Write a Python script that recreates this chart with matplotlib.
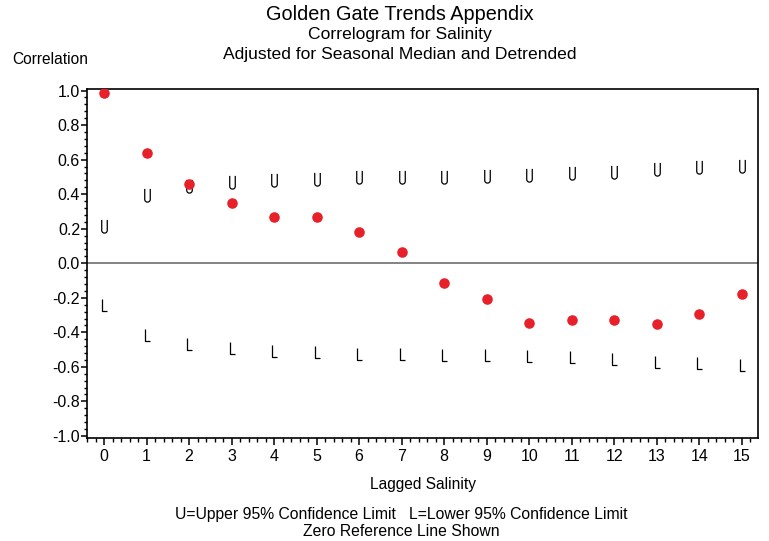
import numpy as np
import matplotlib
matplotlib.use("Agg")
import matplotlib.pyplot as plt
from matplotlib.path import Path
from matplotlib.ticker import MultipleLocator, FormatStrFormatter

plt.rcParams['font.family'] = ['Liberation Sans', 'DejaVu Sans']

# data
lags = list(range(16))
corr = [0.985, 0.64, 0.46, 0.347, 0.27, 0.268, 0.182, 0.065,
        -0.112, -0.208, -0.347, -0.331, -0.33, -0.353, -0.293, -0.177]
upper = [0.217, 0.393, 0.447, 0.47, 0.48, 0.49, 0.50, 0.50,
         0.50, 0.505, 0.509, 0.52, 0.53, 0.543, 0.557, 0.566]
lower = [-0.243, -0.416, -0.468, -0.493, -0.507, -0.516, -0.526, -0.526,
         -0.53, -0.532, -0.536, -0.545, -0.555, -0.57, -0.58, -0.588]

# letter-like markers "U" and "L" (narrow, thin stroke)
t = np.linspace(np.pi, 2 * np.pi, 20)
u_verts = [(-0.21, 0.5), (-0.21, -0.29)]
u_verts += [(0.21 * np.cos(a), -0.29 + 0.21 * np.sin(a)) for a in t]
u_verts += [(0.21, 0.5)]
U_MARK = Path(u_verts, [Path.MOVETO] + [Path.LINETO] * (len(u_verts) - 1))
L_MARK = Path([(-0.18, 0.5), (-0.18, -0.5), (0.2, -0.5)],
              [Path.MOVETO, Path.LINETO, Path.LINETO])

fig = plt.figure(figsize=(7.69, 5.41), dpi=100)
ax = fig.add_axes([87 / 769, 1 - 438 / 541, (758 - 87) / 769, (438 - 88.5) / 541])

ax.axhline(0, color='#7a7a7a', lw=1.3, zorder=1)
ax.plot(lags, upper, ls='none', marker=U_MARK, markersize=9.5,
        mfc='none', mec='black', mew=0.9, zorder=2)
ax.plot(lags, lower, ls='none', marker=L_MARK, markersize=9.0,
        mfc='none', mec='black', mew=0.9, zorder=2)
ax.plot(lags, corr, ls='none', marker='o', markersize=7.6,
        color='#e8202a', mec='none', zorder=3)

ax.set_xlim(-0.4, 15.38)
ax.set_ylim(-1.012, 1.012)
ax.xaxis.set_major_locator(MultipleLocator(1))
ax.xaxis.set_minor_locator(MultipleLocator(0.2))
ax.yaxis.set_major_locator(MultipleLocator(0.2))
ax.yaxis.set_minor_locator(MultipleLocator(0.04))
ax.yaxis.set_major_formatter(FormatStrFormatter('%.1f'))

for side in ['left', 'bottom', 'top', 'right']:
    ax.spines[side].set_linewidth(1.2)
ax.tick_params(axis='x', which='major', length=5, width=1.1, labelsize=11.5, pad=3)
ax.tick_params(axis='x', which='minor', length=3, width=1.0)
ax.tick_params(axis='y', which='major', length=4, width=1.1, labelsize=11.5, pad=1)
ax.tick_params(axis='y', which='minor', length=2.5, width=1.0)

ax.set_xlabel('Lagged Salinity', fontsize=11.2, labelpad=9)

fig.text(12 / 769, 1 - 59 / 541, 'Correlation', fontsize=11.2, va='center', ha='left')
fig.text(400 / 769, 1 - 15 / 541, 'Golden Gate Trends Appendix', fontsize=14.3,
         ha='center', va='center')
fig.text(400 / 769, 1 - 35 / 541, 'Correlogram for Salinity', fontsize=12.6,
         ha='center', va='center')
fig.text(400 / 769, 1 - 55 / 541, 'Adjusted for Seasonal Median and Detrended',
         fontsize=12.6, ha='center', va='center')
fig.text(401 / 769, 1 - 515 / 541,
         'U=Upper 95% Confidence Limit   L=Lower 95% Confidence Limit',
         fontsize=11.3, ha='center', va='center')
fig.text(401 / 769, 1 - 531 / 541, 'Zero Reference Line Shown',
         fontsize=11.3, ha='center', va='center')

fig.savefig('out.png', dpi=100)
